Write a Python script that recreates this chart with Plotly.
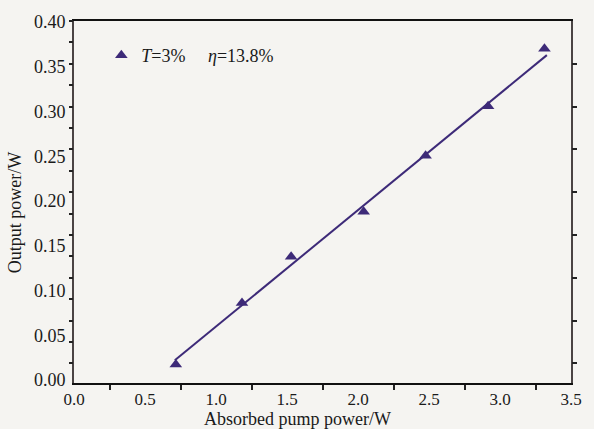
import plotly.graph_objects as go

# Data
pump_power = [0.717, 1.183, 1.529, 2.040, 2.476, 2.916, 3.313]
output_power = [0.0175, 0.0862, 0.1378, 0.188, 0.2506, 0.306, 0.370]
fit_x = [0.71, 3.33]
fit_y = [0.022, 0.363]

x_labels = [0.0, 0.5, 1.0, 1.5, 2.0, 2.5, 3.0, 3.5]
x_minor = [0.25, 0.75, 1.25, 1.75, 2.25, 2.75, 3.25]
y_labels = [0.00, 0.05, 0.10, 0.15, 0.20, 0.25, 0.30, 0.35, 0.40]

purple = "#3d2a78"
bg = "#f5f4f1"
font = "Liberation Serif"
tfont = dict(family=font, size=18, color="#1a1a1a")
xfont = dict(family=font, size=17, color="#1a1a1a")

fig = go.Figure()
fig.add_trace(go.Scatter(x=fit_x, y=fit_y, mode="lines",
                         line=dict(color=purple, width=2), showlegend=False))
fig.add_trace(go.Scatter(x=pump_power, y=output_power, mode="markers",
                         marker=dict(symbol="triangle-up", size=11, color=purple),
                         name="<i>T</i>=3%&nbsp;&nbsp;&nbsp;&nbsp;&nbsp;<i>η</i>=13.8%"))
fig.add_trace(go.Scatter(x=[], y=[], yaxis="y2", showlegend=False))
fig.add_trace(go.Scatter(x=[], y=[], yaxis="y3", showlegend=False))

fig.update_layout(
    width=594, height=429,
    margin=dict(l=74, r=14, t=14, b=46),
    paper_bgcolor=bg, plot_bgcolor=bg,
    font=tfont,
    showlegend=True,
    legend=dict(x=0.055, y=0.956, xanchor="left", yanchor="top",
                bgcolor="rgba(0,0,0,0)", font=tfont),
    xaxis=dict(range=[0, 3.5], tickvals=x_labels,
               ticktext=[f"{v:.1f}" for v in x_labels], tickfont=xfont,
               ticks="", showgrid=False, zeroline=False,
               showline=True, linecolor="#111", linewidth=1.5, mirror=True,
               minor=dict(tickvals=x_minor, ticks="outside", ticklen=5,
                          tickwidth=1.5, tickcolor="#222", showgrid=False),
               ticklabelstandoff=0),
    yaxis=dict(range=[-0.0033, 0.4011], tickvals=y_labels,
               ticktext=[f"{v:.2f}" for v in y_labels], tickfont=tfont,
               ticks="", showgrid=False, zeroline=False,
               showline=True, linecolor="#4a4444", linewidth=2, mirror=True,
               ticklabelstandoff=3),
    yaxis2=dict(range=[-0.023, 0.40], overlaying="y", side="left", anchor="x",
                tick0=0, dtick=0.025, ticks="outside", ticklen=4, tickwidth=1.5,
                tickcolor="#222", showticklabels=False, showgrid=False,
                zeroline=False, showline=False),
    yaxis3=dict(range=[-0.023, 0.40], overlaying="y", side="right", anchor="x",
                tickvals=[0.0, 0.05, 0.10, 0.15, 0.20, 0.25, 0.30, 0.35],
                ticks="outside", ticklen=5, tickwidth=1.5, tickcolor="#222",
                showticklabels=False, showgrid=False, zeroline=False,
                showline=False),
    annotations=[
        dict(text="Absorbed pump power/W", xref="paper", yref="paper",
             x=0.4506, y=-0.099, xanchor="center", yanchor="middle",
             showarrow=False, font=tfont),
        dict(text="Output power/W", xref="paper", yref="paper",
             x=-0.1186, y=0.469, xanchor="center", yanchor="middle",
             textangle=-90, showarrow=False, font=tfont),
    ],
)

fig.write_html("out.html")
